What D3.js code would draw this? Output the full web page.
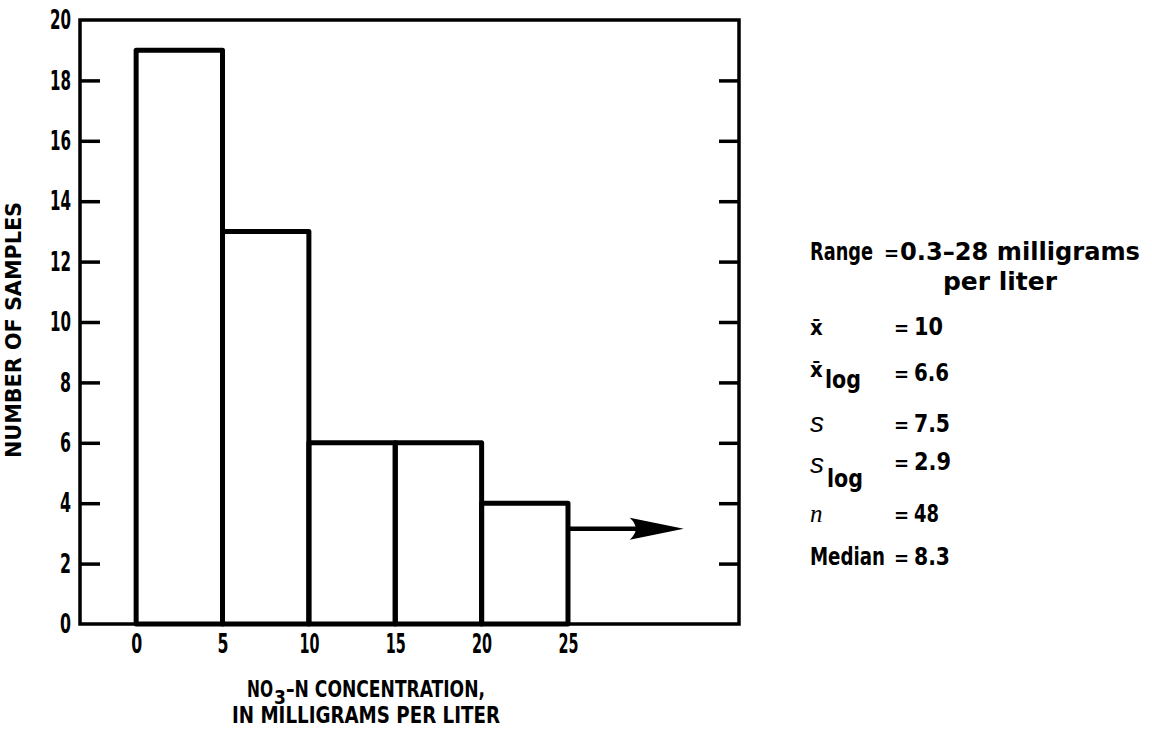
<!DOCTYPE html>
<html>
<head>
<meta charset="utf-8">
<script src="https://cdn.jsdelivr.net/npm/d3@7"></script>
<style>
  body { margin: 0; background: #fff; }
  svg { display: block; }
  text { font-family: "Liberation Sans Narrow", "DejaVu Sans Condensed", "DejaVu Sans", sans-serif; font-stretch: condensed; font-weight: bold; fill: #000; }
</style>
</head>
<body>
<svg id="chart" width="1152" height="734"></svg>
<script>
// histogram bins (mg/L) and counts
binStarts = [0, 5, 10, 15, 20];
binEnds = [5, 10, 15, 20, 25];
counts = [19, 13, 6, 6, 4];
// arrow for values beyond 25
arrowFrom = 25;
arrowTo = 31.7;
arrowLevel = 3.15;

xTicks = [0, 5, 10, 15, 20, 25];
yTicks = [0, 2, 4, 6, 8, 10, 12, 14, 16, 18, 20];

// summary statistics on the right
statNames = ["Range", "x", "x", "s", "s", "n", "Median"];
statSubs = ["", "", "log", "", "log", "", ""];
statValues = ["0.3\u201328 milligrams", "10", "6.6", "7.5", "2.9", "48", "8.3"];

var svg = d3.select("#chart");
var pLeft = 80, pRight = 739, pTop = 20, pBottom = 624;

var x = d3.scaleLinear().domain([-3.25, 34.9]).range([pLeft, pRight]);
var y = d3.scaleLinear().domain([0, 20]).range([pBottom, pTop]);

// frame
svg.append("rect")
    .attr("x", pLeft).attr("y", pTop)
    .attr("width", pRight - pLeft).attr("height", pBottom - pTop)
    .attr("fill", "none").attr("stroke", "#000").attr("stroke-width", 3.5);

// left axis, ticks pointing in
var yAxis = svg.append("g")
    .attr("transform", "translate(" + pLeft + ",0)")
    .call(d3.axisLeft(y).tickValues(yTicks).tickSize(-20).tickPadding(9).tickFormat(d3.format("d")));
yAxis.select(".domain").remove();
yAxis.selectAll(".tick line").attr("stroke-width", 3.5).attr("stroke", "#000")
    .filter(d => d == 0 || d == 20).remove();
yAxis.selectAll("text").attr("font-size", 27).attr("font-family", null).attr("fill", "#000")
    .attr("textLength", d => d >= 10 ? 21 : 11).attr("lengthAdjust", "spacingAndGlyphs");

// right axis ticks
var yAxisR = svg.append("g")
    .attr("transform", "translate(" + pRight + ",0)")
    .call(d3.axisRight(y).tickValues(yTicks.filter(d => d > 0 && d < 20)).tickSize(-20).tickFormat(""));
yAxisR.select(".domain").remove();
yAxisR.selectAll(".tick line").attr("stroke-width", 3.5).attr("stroke", "#000");

// x tick labels only
var xAxis = svg.append("g")
    .attr("transform", "translate(0," + pBottom + ")")
    .call(d3.axisBottom(x).tickValues(xTicks).tickSize(0).tickPadding(10));
xAxis.select(".domain").remove();
xAxis.selectAll("text").attr("font-size", 27).attr("font-family", null).attr("fill", "#000")
    .attr("textLength", d => d >= 10 ? 20 : 11).attr("lengthAdjust", "spacingAndGlyphs");

// bars
svg.selectAll(".bar")
    .data(counts)
    .enter()
    .append("rect")
    .attr("class", "bar")
    .attr("x", (d, i) => x(binStarts[i]))
    .attr("y", d => y(d))
    .attr("width", (d, i) => x(binEnds[i]) - x(binStarts[i]))
    .attr("height", d => y(0) - y(d))
    .attr("fill", "none")
    .attr("stroke", "#000")
    .attr("stroke-width", 5)
    .attr("stroke-linejoin", "round");

// arrow
var ax0 = x(arrowFrom), ax1 = x(arrowTo), ay = y(arrowLevel);
svg.append("line")
    .attr("x1", ax0).attr("x2", ax1 - 40).attr("y1", ay).attr("y2", ay)
    .attr("stroke", "#000").attr("stroke-width", 4.5);
svg.append("path")
    .attr("d", "M" + ax1 + "," + ay + " L" + (ax1 - 54) + "," + (ay - 11) +
        " Q" + (ax1 - 42) + "," + ay + " " + (ax1 - 54) + "," + (ay + 11) + " Z")
    .attr("fill", "#000");

// axis titles
svg.append("text")
    .attr("transform", "translate(21,330) rotate(-90)")
    .attr("text-anchor", "middle")
    .attr("font-size", 21)
    .attr("textLength", 256).attr("lengthAdjust", "spacingAndGlyphs")
    .text("NUMBER OF SAMPLES");

// first title line in pieces so the subscript sits below "NO"
svg.append("text")
    .attr("x", 247).attr("y", 697)
    .attr("font-size", 23)
    .attr("textLength", 26).attr("lengthAdjust", "spacingAndGlyphs")
    .text("NO");
svg.append("text")
    .attr("x", 274).attr("y", 704)
    .attr("font-size", 19)
    .text("3");
svg.append("text")
    .attr("x", 286).attr("y", 697)
    .attr("font-size", 23)
    .attr("textLength", 199).attr("lengthAdjust", "spacingAndGlyphs")
    .text("\u2013N  CONCENTRATION,");

svg.append("text")
    .attr("x", 232).attr("y", 723)
    .attr("font-size", 23)
    .attr("textLength", 268).attr("lengthAdjust", "spacingAndGlyphs")
    .text("IN MILLIGRAMS PER LITER");

// stats block
var statBase = [260, 335, 381, 432, 470, 522, 565];
var nameBase = [260, 335, 377, 432, 473, 522, 565];
var valueLen = [240, 29, 35, 36, 37, 25, 36];
var stats = svg.append("g");
statNames.forEach(function (name, i) {
    var t = stats.append("text")
        .attr("x", 810).attr("y", nameBase[i])
        .attr("font-size", 24);
    if (name == "x") {
        t.append("tspan").attr("font-size", 22).text("x\u0304");
    } else if (name == "s") {
        t.append("tspan").attr("font-style", "italic").attr("font-weight", "normal")
            .attr("font-family", "Liberation Sans").attr("font-size", 28).text("s");
    } else if (name == "n") {
        t.append("tspan").attr("font-style", "italic").attr("font-weight", "normal")
            .attr("font-family", "Liberation Serif").attr("font-size", 25).text("n");
    } else {
        t.text(name).attr("textLength", name == "Range" ? 63 : 75).attr("lengthAdjust", "spacingAndGlyphs");
    }
    if (statSubs[i] != "") {
        stats.append("text")
            .attr("x", name == "x" ? 825 : 827).attr("y", nameBase[i] + (name == "x" ? 11 : 14))
            .attr("font-size", 24)
            .attr("textLength", 36).attr("lengthAdjust", "spacingAndGlyphs")
            .text(statSubs[i]);
    }
    stats.append("text")
        .attr("x", i == 0 ? 884 : 894).attr("y", statBase[i])
        .attr("font-size", 20).attr("font-weight", "normal")
        .text("=");
    stats.append("text")
        .attr("x", i == 0 ? 900 : 914).attr("y", statBase[i])
        .attr("font-size", 24)
        .attr("textLength", valueLen[i]).attr("lengthAdjust", "spacingAndGlyphs")
        .text(statValues[i]);
});
stats.append("text")
    .attr("x", 943).attr("y", 290)
    .attr("font-size", 24)
    .attr("textLength", 114).attr("lengthAdjust", "spacingAndGlyphs")
    .text("per liter");
</script>
</body>
</html>
